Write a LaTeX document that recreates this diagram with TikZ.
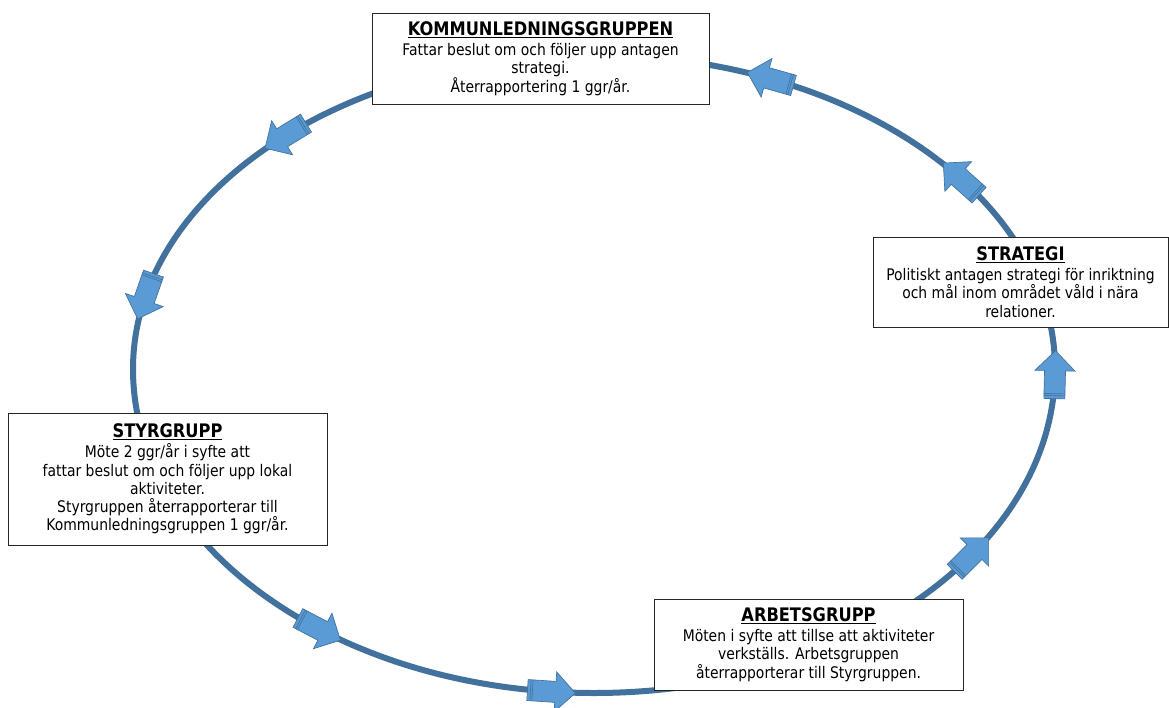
\documentclass[tikz,border=0pt]{standalone}
\usepackage{fontspec}
\setmainfont{DejaVu Sans}[FakeStretch=0.87]
\usepackage{tikz}
\usetikzlibrary{positioning}
\usepackage{xcolor}
\definecolor{cycleblue}{RGB}{65,113,156}
\definecolor{cyclelightblue}{RGB}{91,155,213}
\tikzstyle{cycleline} = [line width=4.5pt, draw=cycleblue]
\tikzstyle{flowarrow} = [fill=cyclelightblue, draw=cycleblue, line width=0.5pt, line join=miter]
\tikzstyle{groupbox} = [rectangle, draw=black!85, line width=0.6pt, fill=white, align=center, inner sep=2pt, font=\fontsize{12}{13.7}\selectfont]
\newcommand{\grouptitle}[1]{{\fontsize{14}{15}\selectfont\bfseries\underline{#1}}}

\begin{document}
\begin{tikzpicture}[x=0.75pt, y=-0.75pt]
\useasboundingbox (0,0) rectangle (1169,707);
% Cycle (upper half a little flatter)
\draw[cycleline] (1055,369) arc [start angle=0, end angle=-180, x radius=461, y radius=314]
  arc [start angle=-180, end angle=-360, x radius=461, y radius=324] -- cycle;

% Arrows along the cycle
\foreach \t/\ry in {67.5/314,37.2/314,-1/324,-35/324,264.7/324,233.4/324,166.6/314,132/314}{
  \pgfmathsetmacro{\px}{594+461*cos(\t)}
  \pgfmathsetmacro{\py}{369-\ry*sin(\t)}
  \pgfmathsetmacro{\ang}{atan2(\ry*cos(\t),-461*sin(\t))}
  \begin{scope}[shift={(\px,\py)}, rotate=\ang]
    \draw[flowarrow] (-24,-10.5) -- (4,-10.5) -- (4,-20) -- (24,0) -- (4,20) -- (4,10.5) -- (-24,10.5) -- cycle;
    \draw[cycleblue, line width=0.5pt] (-21,-10.5) -- (-21,10.5) (-19,-10.5) -- (-19,10.5);
  \end{scope}
}

% Kommunledningsgruppen
\node (kommun) [groupbox, minimum width=252.75pt, minimum height=68.25pt] at (540.5,58.5) {\grouptitle{KOMMUNLEDNINGSGRUPPEN}\\[1.5pt]
Fattar beslut om och följer upp antagen\\
strategi.\\
Återrapportering 1 ggr/år.};

% Strategi
\node (strategi) [groupbox, minimum width=221.25pt, minimum height=67.5pt] at (1020.5,282) {\grouptitle{STRATEGI}\\[1.5pt]
Politiskt antagen strategi för inriktning\\
och mål inom området våld i nära\\
relationer.};

% Styrgrupp
\node (styr) [groupbox, minimum width=239.25pt, minimum height=99pt] at (167.5,479) {\grouptitle{STYRGRUPP}\\[1.5pt]
Möte 2 ggr/år i syfte att\\
fattar beslut om och följer upp lokal\\
aktiviteter.\\
Styrgruppen återrapporterar till\\
Kommunledningsgruppen 1 ggr/år.};

% Arbetsgrupp
\node (arbets) [groupbox, minimum width=231.75pt, minimum height=68.25pt] at (808.5,644.5) {\grouptitle{ARBETSGRUPP}\\[1.5pt]
Möten i syfte att tillse att aktiviteter\\
verkställs. Arbetsgruppen\\
återrapporterar till Styrgruppen.};

\end{tikzpicture}
\end{document}
